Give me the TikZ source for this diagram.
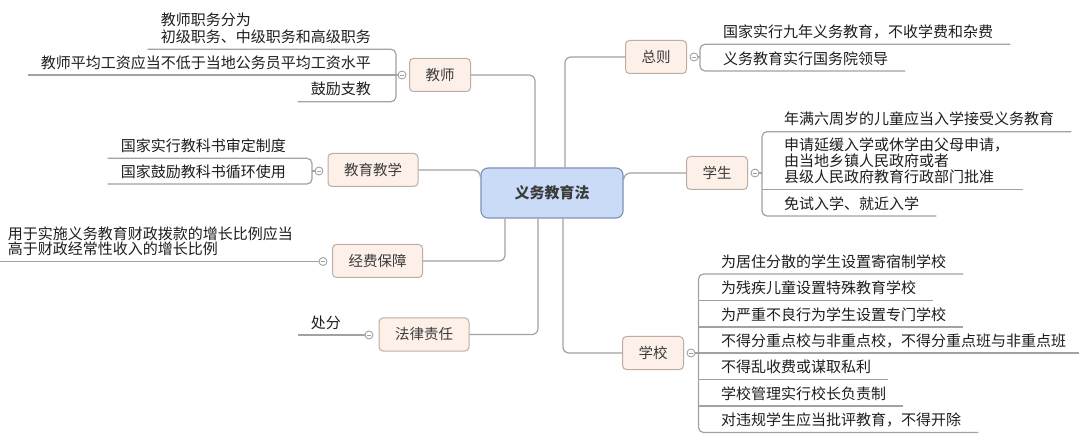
\documentclass[tikz,border=0pt]{standalone}
\usepackage{fontspec}
\setmainfont{Noto Sans CJK SC}
\usetikzlibrary{calc}
\definecolor{lineGray}{HTML}{A2A2A2}
\definecolor{branchFill}{HTML}{FCF0E8}
\definecolor{branchDraw}{HTML}{BBAEA4}
\definecolor{rootFill}{HTML}{C9DBF7}
\definecolor{rootDraw}{HTML}{7F92B0}
\definecolor{leafText}{HTML}{1E1E1E}
\definecolor{branchText}{HTML}{3C3C3C}
\newcommand\mlines[2]{\vbox{\baselineskip=#1\lineskiplimit=-100pt\relax\halign{##\hfil\cr#2\crcr}}}
\begin{document}
\begin{tikzpicture}[x=1pt,y=-1pt,
  conn/.style={draw=lineGray, line width=1.2pt, rounded corners=5pt},
  rootbox/.style={draw=rootDraw, fill=rootFill, line width=1.1pt, rounded corners=7pt,
    minimum width=142pt, minimum height=50pt, inner sep=0pt,
    font=\fontsize{15}{18}\selectfont\bfseries, text=branchText},
  branch/.style={draw=branchDraw, fill=branchFill, line width=1pt, rounded corners=4pt,
    minimum height=33pt, inner xsep=16pt, inner ysep=0pt,
    font=\fontsize{14.5}{17}\selectfont, text=branchText},
  leafR/.style={anchor=south west, inner sep=0pt, text depth=6.7pt,
    font=\fontsize{15}{16}\selectfont, text=leafText},
  leafL/.style={leafR, anchor=south east},
  fold/.style={circle, draw=lineGray, fill=white, line width=0.9pt, minimum size=8pt, inner sep=0pt,
    path picture={\draw[lineGray, line width=0.6pt]
      ($(path picture bounding box.center)+(-2,0)$) -- ($(path picture bounding box.center)+(2,0)$);}},
]
\path[use as bounding box, fill=white] (0,0) rectangle (1079,438);

% root
\node[rootbox] (root) at (552,193) {义务教育法};

% branches
\node[branch] (jiaoshi) at (440,75) {教师};
\node[branch] (jiaoyu) at (373,170) {教育教学};
\node[branch] (jingfei) at (377.5,261) {经费保障};
\node[branch] (falv) at (424,334.5) {法律责任};
\node[branch] (zongze) at (656,57) {总则};
\node[branch] (xuesheng) at (717,173) {学生};
\node[branch] (xuexiao) at (653,353) {学校};

% fold markers
\node[fold] (f-jiaoshi) at (402,75) {};
\node[fold] (f-jiaoyu) at (319,171) {};
\node[fold] (f-jingfei) at (323,261.5) {};
\node[fold] (f-falv) at (369,335) {};
\node[fold] (f-zongze) at (694,57) {};
\node[fold] (f-xuesheng) at (755,173) {};
\node[fold] (f-xuexiao) at (691,353) {};

% root connectors
\draw[conn, rounded corners=6pt] (jiaoshi.east) -| ($(root.north)+(-17,0)$);
\draw[conn, rounded corners=6pt] (falv.east) -| ($(root.south)+(-14,0)$);
\draw[conn, rounded corners=6pt] (jingfei.east) -| ($(root.south)+(-47,0)$);
\draw[conn, rounded corners=7pt] (jiaoyu.east) -| ($(root.west)+(0,-16)$);
\draw[conn, rounded corners=6pt] (zongze.west) -| ($(root.north)+(13,0)$);
\draw[conn, rounded corners=6pt] (xuexiao.west) -| ($(root.south)+(11,0)$);
\draw[conn, rounded corners=7pt] (xuesheng.west) -| ($(root.east)+(0,-16)$);

% ---- 教师 ----
\coordinate (bj) at (396,75);
\node[leafL] (j1) at (371,49.3) {\mlines{16.7pt}{教师职务分为\cr 初级职务、中级职务和高级职务}};
\node[leafL] (j2) at (371,75) {教师平均工资应当不低于当地公务员平均工资水平};
\node[leafL] (j3) at (371,101.7) {鼓励支教};
\draw[conn] ($(j1.south west)+(-13,0)$) -- (j1.south -| bj) -- (j3.south -| bj) -- ($(j3.south west)+(-13,0)$);
\draw[conn] ($(j2.south west)+(-13,0)$) -- (f-jiaoshi.west);

% ---- 教育教学 ----
\coordinate (be) at (312,171);
\node[leafL] (e1) at (286,158.3) {国家实行教科书审定制度};
\node[leafL] (e2) at (286,184) {国家鼓励教科书循环使用};
\draw[conn] ($(e1.south west)+(-13,0)$) -- (e1.south -| be) -- (e2.south -| be) -- ($(e2.south west)+(-13,0)$);
\draw[conn] (be) -- (f-jiaoyu.west);

% ---- 经费保障 ----
\node[leafL] (g1) at (293,261.5) {\mlines{15.5pt}{用于实施义务教育财政拨款的增长比例应当\cr 高于财政经常性收入的增长比例}};
\draw[conn] (f-jingfei.west) -- ($(g1.south west)+(-13,0)$);

% ---- 法律责任 ----
\node[leafL] (l1) at (341,335) {处分};
\draw[conn] (f-falv.west) -- ($(l1.south west)+(-13,0)$);

% ---- 总则 ----
\coordinate (bz) at (700,57);
\node[leafR] (z1) at (723,44.3) {国家实行九年义务教育，不收学费和杂费};
\node[leafR] (z2) at (723,71) {义务教育实行国务院领导};
\draw[conn] ($(z1.south east)+(17,0)$) -- (z1.south -| bz) -- (z2.south -| bz) -- ($(z2.south east)+(17,0)$);
\draw[conn] (f-zongze.east) -- (bz);

% ---- 学生 ----
\coordinate (bs) at (762,173);
\node[leafR] (s1) at (784,131.7) {年满六周岁的儿童应当入学接受义务教育};
\node[leafR] (s2) at (784,189.5) {\mlines{16pt}{申请延缓入学或休学由父母申请，\cr 由当地乡镇人民政府或者\cr 县级人民政府教育行政部门批准}};
\node[leafR] (s3) at (784,216) {免试入学、就近入学};
\draw[conn] ($(s1.south east)+(17,0)$) -- (s1.south -| bs) -- (s3.south -| bs) -- ($(s3.south east)+(17,0)$);
\draw[conn] (s2.south -| bs) -- ($(s2.south east)+(14,0)$);
\draw[conn] (f-xuesheng.east) -- (bs);

% ---- 学校 ----
\coordinate (bx) at (698.5,353);
\node[leafR] (x1) at (721,274) {为居住分散的学生设置寄宿制学校};
\node[leafR] (x2) at (721,300.5) {为残疾儿童设置特殊教育学校};
\node[leafR] (x3) at (721,327) {为严重不良行为学生设置专门学校};
\node[leafR] (x4) at (721,353) {不得分重点校与非重点校，不得分重点班与非重点班};
\node[leafR] (x5) at (721,379.5) {不得乱收费或谋取私利};
\node[leafR] (x6) at (721,406) {学校管理实行校长负责制};
\node[leafR] (x7) at (721,432.5) {对违规学生应当批评教育，不得开除};
\draw[conn] ($(x1.south east)+(17,0)$) -- (x1.south -| bx) -- (x7.south -| bx) -- ($(x7.south east)+(17,0)$);
\foreach \i in {2,...,6} {
  \draw[conn] (x\i.south -| bx) -- ($(x\i.south east)+(17,0)$);
}
\draw[conn] (f-xuexiao.east) -- (bx);
\end{tikzpicture}
\end{document}
